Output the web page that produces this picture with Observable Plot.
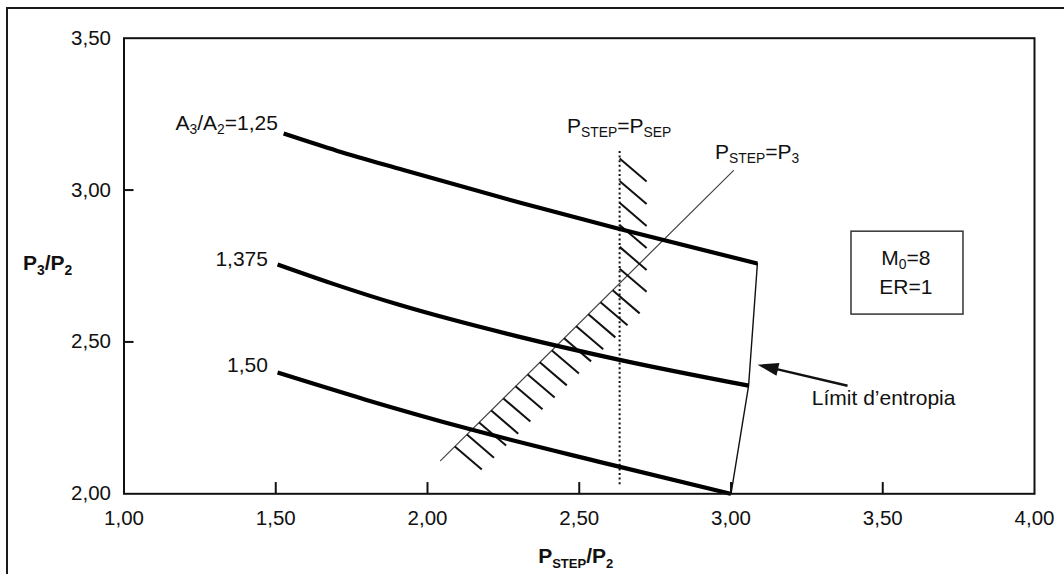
<!DOCTYPE html>
<html>
<head>
<meta charset="utf-8">
<script src="https://cdn.jsdelivr.net/npm/d3@7"></script>
<script src="https://cdn.jsdelivr.net/npm/@observablehq/plot@0.6"></script>
<style>
  html, body { margin: 0; padding: 0; background: #fff; }
  #wrap { position: relative; width: 1064px; height: 574px; overflow: hidden; background: #fff; }
  #wrap svg { display: block; position: absolute; left: 0; top: 0; }
  #border { position: absolute; left: 6px; top: 7px; right: -10px; bottom: -10px;
            border-left: 2px solid #1a1a1a; border-top: 2px solid #1a1a1a; pointer-events: none; }
</style>
</head>
<body>
<div id="wrap"><div id="border"></div></div>
<script>
// ---- data ----
const xTicks = [1, 1.5, 2, 2.5, 3, 3.5, 4];
const yTicks = [2, 2.5, 3, 3.5];
const xTickMarks = [1.5, 2, 2.5, 3, 3.5];
const yTickMarks = [2.5, 3];

const seriesNames = ["1,25", "1,375", "1,50"];
const curve125X  = [1.526, 1.703, 1.921, 2.306, 2.633, 3.087];
const curve125Y  = [3.186, 3.129, 3.066, 2.958, 2.872, 2.758];
const curve1375X = [1.506, 1.687, 1.904, 2.290, 2.633, 3.058];
const curve1375Y = [2.755, 2.692, 2.623, 2.520, 2.441, 2.356];
const curve150X  = [1.506, 1.796, 2.135, 2.563, 3.000];
const curve150Y  = [2.399, 2.310, 2.214, 2.106, 2.000];

const entropyX = [3.087, 3.058, 3.000];
const entropyY = [2.758, 2.356, 2.000];

const stepP3X = [2.043, 3.008];
const stepP3Y = [2.109, 3.064];

const stepSepX = [2.633];
const stepSepY = [2.03, 3.135];

const hatchDiagX = [2.09, 2.13, 2.17, 2.21, 2.25, 2.29, 2.33, 2.37, 2.41, 2.45, 2.49, 2.53, 2.57, 2.61];
const hatchDiagY = [2.156, 2.195, 2.235, 2.274, 2.314, 2.354, 2.393, 2.433, 2.472, 2.512, 2.552, 2.591, 2.631, 2.670];
const hatchSepY  = [3.104, 3.030, 2.958, 2.885, 2.813, 2.741];

// text labels (parts: [text, isSubscript])
const labelA125  = [["A",0],["3",1],["/A",0],["2",1],["=1,25",0]];
const label1375  = [["1,375",0]];
const label150   = [["1,50",0]];
const labelSep   = [["P",0],["STEP",1],["=P",0],["SEP",1]];
const labelP3    = [["P",0],["STEP",1],["=P",0],["3",1]];
const labelM0    = [["M",0],["0",1],["=8",0]];
const labelER    = [["ER=1",0]];
const labelLimit = [["Límit d\u2019entropia",0]];
const labelYAxis = [["P",0],["3",1],["/P",0],["2",1]];
const labelXAxis = [["P",0],["STEP",1],["/P",0],["2",1]];

// ---- build tables ----
const curveRows = [
  ...curve125X.map((x, i) => ({x, y: curve125Y[i], s: seriesNames[0]})),
  ...curve1375X.map((x, i) => ({x, y: curve1375Y[i], s: seriesNames[1]})),
  ...curve150X.map((x, i) => ({x, y: curve150Y[i], s: seriesNames[2]}))
];
const entropyRows = entropyX.map((x, i) => ({x, y: entropyY[i]}));
const diagRows = stepP3X.map((x, i) => ({x, y: stepP3Y[i]}));
const hatchRows = [
  ...hatchDiagX.map((x, i) => ({x, y: hatchDiagY[i]})),
  ...hatchSepY.map(y => ({x: stepSepX[0], y}))
];

const fmt = d => d.toFixed(2).replace(".", ",");
const FONT = "'Liberation Sans', Arial, Helvetica, sans-serif";
const INK = "#111";
const HDX = 0.089, HDY = -0.076;

const chart = Plot.plot({
  width: 1064,
  height: 574,
  marginLeft: 123.5,
  marginRight: 30,
  marginTop: 37.7,
  marginBottom: 80.7,
  x: {domain: [1, 4]},
  y: {domain: [2, 3.5]},
  style: {fontFamily: FONT, fontSize: "20px", color: INK, background: "transparent"},
  marks: [
    Plot.axisX(xTicks, {tickSize: 0, tickPadding: 17, tickFormat: fmt, fontSize: 20.5, label: null, fill: INK}),
    Plot.axisY(yTicks, {tickSize: 0, tickPadding: 13, tickFormat: fmt, fontSize: 20.5, label: null, fill: INK}),
    Plot.ruleX(xTickMarks, {y1: 2, y2: 2.037, stroke: INK, strokeWidth: 2}),
    Plot.ruleY(yTickMarks, {x1: 1, x2: 1.033, stroke: INK, strokeWidth: 2}),
    Plot.ruleX(stepSepX, {y1: stepSepY[0], y2: stepSepY[1], stroke: INK, strokeWidth: 2, strokeDasharray: "2,2.6"}),
    Plot.line(diagRows, {x: "x", y: "y", stroke: "#444", strokeWidth: 1.2}),
    Plot.link(hatchRows, {x1: "x", y1: "y", x2: d => d.x + HDX, y2: d => d.y + HDY, stroke: INK, strokeWidth: 2}),
    Plot.line(entropyRows, {x: "x", y: "y", stroke: INK, strokeWidth: 1.4}),
    Plot.line(curveRows, {x: "x", y: "y", z: "s", stroke: "#000", strokeWidth: 4.2, curve: "monotone-x", strokeLinecap: "butt"}),
    Plot.rect([0], {x1: 3.397, x2: 3.766, y1: 2.590, y2: 2.863, fill: "none", stroke: "#333", strokeWidth: 1.5}),
    Plot.link([0], {x1: 3.384, y1: 2.356, x2: 3.140, y2: 2.413, stroke: INK, strokeWidth: 2.5}),
    Plot.vector([0], {x: 3.0873, y: 2.4252, length: 21, rotate: -76.9, shape: "spike", anchor: "end", r: 6.5, fill: INK, stroke: "none"}),
    Plot.frame({stroke: INK, strokeWidth: 2})
  ]
});

document.getElementById("wrap").insertBefore(chart, document.getElementById("border"));

const svg = d3.select(chart);
const sx = chart.scale("x"), sy = chart.scale("y");

function rich(xv, yv, parts, {anchor = "start", size = 21, weight = "normal", sub = 0.66, shift = 4} = {}) {
  const t = svg.append("text")
    .attr("x", sx.apply(xv)).attr("y", sy.apply(yv))
    .attr("text-anchor", anchor)
    .attr("font-family", FONT)
    .attr("font-size", size)
    .attr("font-weight", weight)
    .attr("fill", INK);
  let cur = 0;
  parts.forEach(([s, isSub]) => {
    const target = isSub ? shift : 0;
    t.append("tspan")
      .attr("dy", target - cur)
      .attr("font-size", isSub ? size * sub : size)
      .text(s);
    cur = target;
  });
  return t;
}

rich(1.509, 3.196, labelA125, {anchor: "end"});
rich(1.476, 2.750, label1375, {anchor: "end"});
rich(1.476, 2.400, label150, {anchor: "end"});
rich(2.461, 3.186, labelSep);
rich(2.949, 3.099, labelP3);
rich(3.578, 2.751, labelM0, {anchor: "middle"});
rich(3.578, 2.656, labelER, {anchor: "middle"});
rich(3.268, 2.290, labelLimit);
rich(0.669, 2.734, labelYAxis, {weight: "bold", shift: 4.5});
rich(2.49, 1.770, labelXAxis, {anchor: "middle", weight: "bold", sub: 0.62, shift: 4.5});
</script>
</body>
</html>
